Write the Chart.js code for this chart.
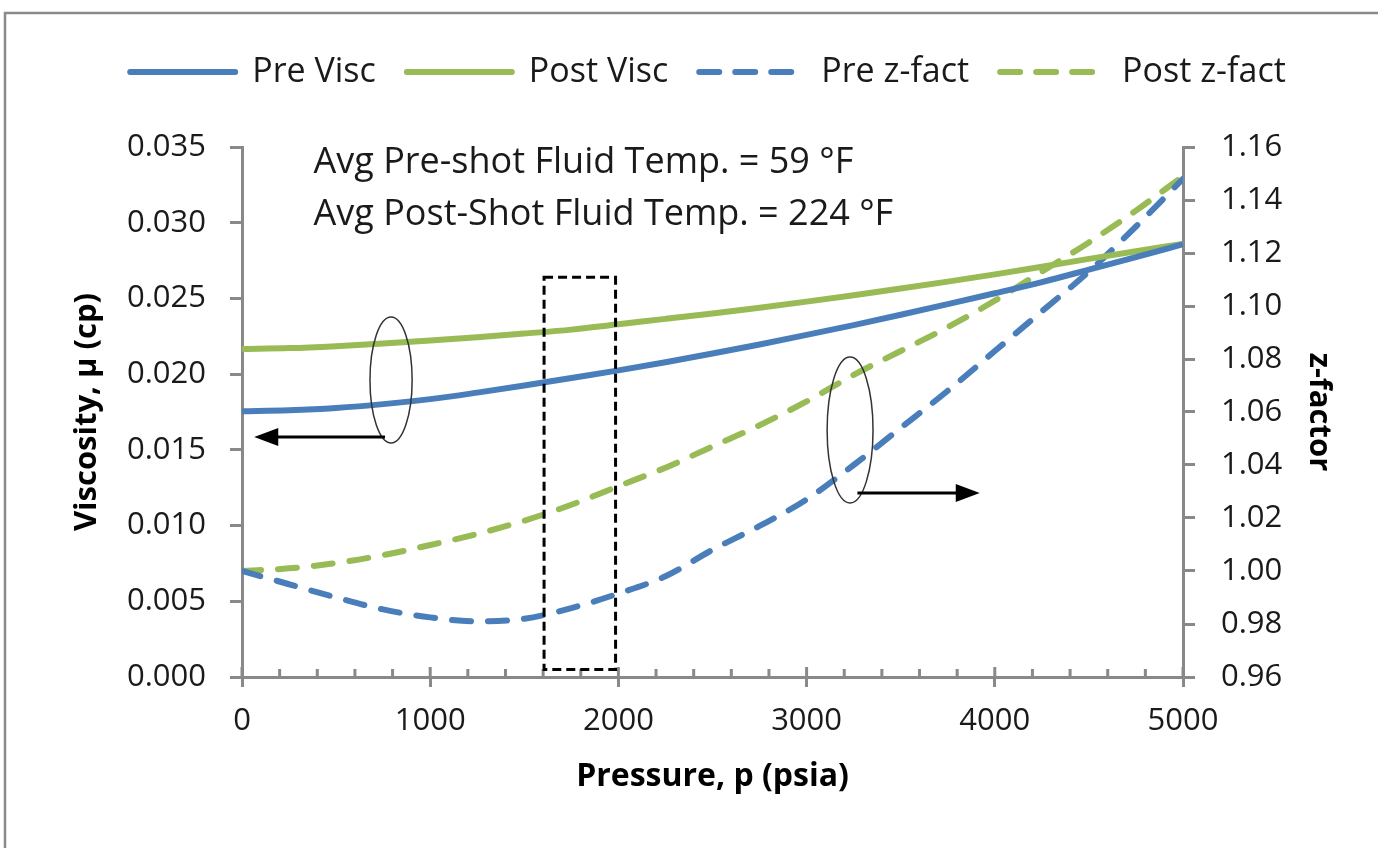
<!DOCTYPE html>
<html>
<head>
<meta charset="utf-8">
<script src="https://cdn.jsdelivr.net/npm/chart.js@4.4.0/dist/chart.umd.min.js"></script>
<style>
  html, body { margin: 0; padding: 0; background: #fff; }
  #wrap { width: 1378px; height: 848px; position: relative; }
</style>
</head>
<body>
<div id="wrap"><canvas id="chart" width="1378" height="848"></canvas></div>
<script>
// pressure, psia
const pressure = [0, 250, 500, 750, 1000, 1250, 1500, 1750, 2000, 2250, 2500,
                  2750, 3000, 3250, 3500, 3750, 4000, 4250, 4500, 4750, 5000];

// viscosity, cp
const preVisc  = [0.01755, 0.01762, 0.01777, 0.01802, 0.01835, 0.01878, 0.01925, 0.01975, 0.02025, 0.02079, 0.02136,
                  0.02196, 0.02259, 0.02324, 0.02392, 0.02462, 0.02534, 0.02608, 0.02690, 0.02773, 0.02858];
const postVisc = [0.02166, 0.02172, 0.02185, 0.02202, 0.02222, 0.02244, 0.02268, 0.02294, 0.02330, 0.02365, 0.02401,
                  0.02439, 0.02479, 0.02521, 0.02565, 0.02611, 0.02659, 0.02709, 0.02761, 0.02812, 0.02860];

// z-factor
const preZ  = [1.000, 0.995, 0.990, 0.9855, 0.9825, 0.981, 0.982, 0.986, 0.9915, 0.998, 1.008,
               1.017, 1.027, 1.040, 1.054, 1.068, 1.083, 1.098, 1.113, 1.130, 1.148];
const postZ = [1.000, 1.001, 1.003, 1.006, 1.0098, 1.014, 1.019, 1.025, 1.032, 1.039, 1.047,
               1.055, 1.064, 1.074, 1.083, 1.092, 1.102, 1.113, 1.124, 1.136, 1.149];

const seriesNames = ['Pre Visc', 'Post Visc', 'Pre z-fact', 'Post z-fact'];
const noteLines = ['Avg Pre-shot Fluid Temp. = 59 \u00B0F', 'Avg Post-Shot Fluid Temp. = 224 \u00B0F'];

const BLUE = '#4a7ebb';
const GREEN = '#98bb55';
const AXIS = '#898989';
const FONT = "'Open Sans', sans-serif";

const pts = (ys) => pressure.map((p, i) => ({ x: p, y: ys[i] }));

function lineSet(label, ys, color, axis, dashed) {
  return {
    label: label,
    data: pts(ys),
    yAxisID: axis,
    borderColor: color,
    backgroundColor: color,
    borderWidth: 6,
    borderDash: dashed ? [19, 17] : [],
    borderCapStyle: dashed ? 'round' : 'butt',
    pointRadius: 0,
    cubicInterpolationMode: 'monotone',
    fill: false
  };
}

// frame, minor ticks and the hand drawn notes
const extras = {
  id: 'extras',
  beforeDraw(chart) {
    const ctx = chart.ctx;
    ctx.save();
    ctx.fillStyle = '#fff';
    ctx.fillRect(0, 0, chart.width, chart.height);
    ctx.strokeStyle = '#8a8a8a';
    ctx.lineWidth = 2.5;
    ctx.beginPath();
    ctx.moveTo(5, chart.height + 5);
    ctx.lineTo(5, 13);
    ctx.lineTo(chart.width + 5, 13);
    ctx.stroke();
    ctx.restore();
  },
  afterDatasetsDraw(chart) {
    const { ctx, scales: { x, y } } = chart;
    const base = chart.chartArea.bottom;
    ctx.save();

    // x axis ticks that point into the plot
    ctx.strokeStyle = AXIS;
    ctx.lineWidth = 3;
    for (let p = 0; p <= 5000; p += 200) {
      const px = x.getPixelForValue(p);
      const len = p % 1000 === 0 ? 10 : 8;
      ctx.beginPath();
      ctx.moveTo(px, base);
      ctx.lineTo(px, base - len);
      ctx.stroke();
    }

    // dashed box around 1600-1980 psia
    ctx.strokeStyle = '#000';
    ctx.lineWidth = 3;
    ctx.setLineDash([9, 5]);
    const bx0 = x.getPixelForValue(1605), bx1 = x.getPixelForValue(1985);
    const by0 = y.getPixelForValue(0.0264), by1 = y.getPixelForValue(0.0005);
    ctx.strokeRect(bx0, by0, bx1 - bx0, by1 - by0);
    ctx.setLineDash([]);

    // ellipses
    ctx.strokeStyle = '#333';
    ctx.lineWidth = 1.5;
    const ell = (pc, vc, dp, dv) => {
      const cx = x.getPixelForValue(pc), cy = y.getPixelForValue(vc);
      const rx = x.getPixelForValue(pc + dp) - cx, ry = cy - y.getPixelForValue(vc + dv);
      ctx.beginPath();
      ctx.ellipse(cx, cy, rx, ry, 0, 0, Math.PI * 2);
      ctx.stroke();
    };
    ell(792, 0.01961, 112, 0.00416);
    ell(3231, 0.01631, 122, 0.00482);

    // arrows
    const arrow = (p0, p1, v) => {
      const x0 = x.getPixelForValue(p0), x1 = x.getPixelForValue(p1), yy = y.getPixelForValue(v);
      const dir = Math.sign(x1 - x0);
      ctx.strokeStyle = '#000';
      ctx.fillStyle = '#000';
      ctx.lineWidth = 3;
      ctx.beginPath();
      ctx.moveTo(x0, yy);
      ctx.lineTo(x1 - dir * 18, yy);
      ctx.stroke();
      ctx.beginPath();
      ctx.moveTo(x1, yy);
      ctx.lineTo(x1 - dir * 24, yy - 9);
      ctx.lineTo(x1 - dir * 24, yy + 9);
      ctx.closePath();
      ctx.fill();
    };
    arrow(760, 65, 0.01585);
    arrow(3270, 3920, 0.01215);

    // temperature notes
    ctx.fillStyle = '#1a1a1a';
    ctx.font = "36px " + FONT;
    ctx.textBaseline = 'middle';
    ctx.textAlign = 'left';
    ctx.fillText(noteLines[0], x.getPixelForValue(380), y.getPixelForValue(0.03394));
    ctx.fillText(noteLines[1], x.getPixelForValue(380), y.getPixelForValue(0.03051));
    ctx.restore();
  }
};

new Chart(document.getElementById('chart'), {
  type: 'line',
  data: {
    datasets: [
      lineSet(seriesNames[0], preVisc, BLUE, 'y', false),
      lineSet(seriesNames[1], postVisc, GREEN, 'y', false),
      lineSet(seriesNames[2], preZ, BLUE, 'y1', true),
      lineSet(seriesNames[3], postZ, GREEN, 'y1', true)
    ]
  },
  options: {
    responsive: false,
    animation: false,
    layout: { padding: { left: 38, right: 0, top: 24, bottom: 0 } },
    plugins: {
      tooltip: { enabled: false },
      // empty title used as a spacer between legend and plot
      title: {
        display: true,
        text: '',
        position: 'top',
        weight: 500,
        padding: { top: 0, bottom: 38 },
        font: { size: 10, lineHeight: 1 }
      },
      legend: {
        position: 'top',
        labels: {
          usePointStyle: true,
          pointStyleWidth: 105,
          boxHeight: 6,
          padding: 31,
          color: '#1a1a1a',
          font: { family: FONT, size: 34 },
          generateLabels(chart) {
            return chart.data.datasets.map((ds, i) => ({
              text: ds.label,
              datasetIndex: i,
              fillStyle: ds.borderColor,
              strokeStyle: ds.borderColor,
              lineWidth: 6,
              lineCap: 'round',
              lineDash: ds.borderDash.length ? [20, 16] : [],
              pointStyle: 'line',
              hidden: false,
              fontColor: '#1a1a1a'
            }));
          }
        }
      }
    },
    scales: {
      x: {
        type: 'linear',
        min: 0,
        max: 5000,
        afterFit(s) { s.height = 171; },
        ticks: {
          stepSize: 1000,
          padding: 16,
          color: '#1a1a1a',
          font: { family: FONT, size: 31 },
          maxRotation: 0,
          callback: (v) => String(v)
        },
        grid: { drawOnChartArea: false, color: AXIS, lineWidth: 3, tickLength: 10 },
        border: { color: AXIS, width: 3 },
        title: {
          display: true,
          text: 'Pressure, p (psia)',
          color: '#000',
          font: { family: FONT, size: 32, weight: 'bold', lineHeight: 1.2 },
          padding: { top: 0, bottom: 52 }
        }
      },
      y: {
        position: 'left',
        min: 0,
        max: 0.035,
        afterFit(s) { s.width = 204; },
        ticks: {
          stepSize: 0.005,
          padding: 24,
          color: '#1a1a1a',
          font: { family: FONT, size: 31 },
          callback: (v) => v.toFixed(3)
        },
        grid: { drawOnChartArea: false, color: AXIS, lineWidth: 3, tickLength: 12 },
        border: { color: AXIS, width: 3 },
        title: {
          display: true,
          text: 'Viscosity, \u03BC (cp)',
          color: '#000',
          font: { family: FONT, size: 31, weight: 'bold', lineHeight: 1.2 },
          padding: { top: 31, bottom: 0 }
        }
      },
      y1: {
        position: 'right',
        min: 0.96,
        max: 1.16,
        afterFit(s) { s.width = 195; },
        ticks: {
          stepSize: 0.02,
          padding: 26,
          color: '#1a1a1a',
          font: { family: FONT, size: 31 },
          callback: (v) => v.toFixed(2)
        },
        grid: { drawOnChartArea: false, color: AXIS, lineWidth: 3, tickLength: 12 },
        border: { color: AXIS, width: 3 },
        title: {
          display: true,
          text: 'z-factor',
          color: '#000',
          font: { family: FONT, size: 31, weight: 'bold', lineHeight: 1.2 },
          padding: { top: 41, bottom: 0 }
        }
      }
    }
  },
  plugins: [extras]
});
</script>
</body>
</html>
